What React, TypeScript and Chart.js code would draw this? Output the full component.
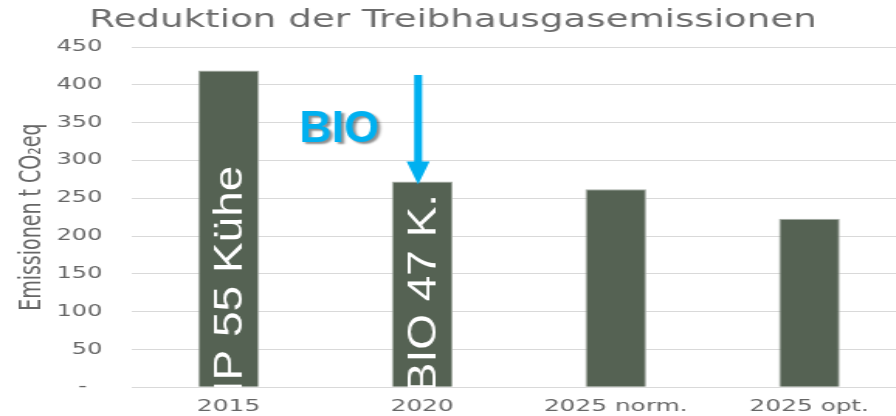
import React, { useEffect, useRef } from "react";
import { Chart, registerables } from "chart.js";

Chart.register(...registerables);

// ---- data ----
const TITLE = "Reduktion der Treibhausgasemissionen";
const Y_TITLE = "Emissionen t CO₂eq";
const categories = ["2015", "2020", "2025 norm.", "2025 opt."];
const emissions = [419, 272, 262, 223];
const barLabels = ["IP 55 Kühe", "BIO 47 K.", "", ""];
const yTicks = { min: 0, max: 450, step: 50 };
const annotationText = "BIO";
const arrowFromValue = 413;
const bioBaselineValue = 325;

// ---- geometry of the stretched look ----
const NATIVE_W = 591;
const CSS_W = 916;
const H = 416;
const K = CSS_W / NATIVE_W;

const FONT = '"DejaVu Sans", Verdana, sans-serif';

const overlayPlugin = {
  id: "overlay",
  afterDatasetsDraw(chart: any) {
    const ctx = chart.ctx;
    const meta = chart.getDatasetMeta(0);
    const area = chart.chartArea;
    ctx.save();
    ctx.beginPath();
    ctx.rect(area.left, area.top, area.right - area.left, area.bottom - area.top);
    ctx.clip();
    ctx.scale(1 / K, 1);
    barLabels.forEach((txt, i) => {
      if (!txt) return;
      const bar = meta.data[i];
      const xd = bar.x * K + 14;
      ctx.save();
      ctx.translate(xd, area.bottom + 6);
      ctx.rotate(-Math.PI / 2);
      ctx.scale(1, 0.85);
      ctx.font = '46px "Liberation Sans", Arial, sans-serif';
      ctx.fillStyle = "#ffffff";
      ctx.textAlign = "left";
      ctx.textBaseline = "alphabetic";
      ctx.fillText(txt, 0, 0);
      ctx.restore();
    });
    ctx.restore();
  },
  afterDraw(chart: any) {
    const ctx = chart.ctx;
    const meta = chart.getDatasetMeta(0);
    const yScale = chart.scales.y;
    const bar = meta.data[1];
    ctx.save();
    ctx.scale(1 / K, 1);
    const ax = bar.x * K - 4;
    const top = yScale.getPixelForValue(arrowFromValue);
    const tip = yScale.getPixelForValue(emissions[1]) + 3;
    const headLen = 23;
    const headHalf = 11.5;
    ctx.fillStyle = "#00B0F0";
    ctx.fillRect(ax - 4, top, 8, tip - headLen - top + 1);
    ctx.beginPath();
    ctx.moveTo(ax - headHalf, tip - headLen);
    ctx.lineTo(ax + headHalf, tip - headLen);
    ctx.lineTo(ax, tip);
    ctx.closePath();
    ctx.fill();

    ctx.font = 'bold 45px "Liberation Sans", Arial, sans-serif';
    ctx.textAlign = "right";
    ctx.textBaseline = "alphabetic";
    ctx.shadowColor = "rgba(0,0,0,0.45)";
    ctx.shadowOffsetX = 2;
    ctx.shadowOffsetY = 2;
    ctx.shadowBlur = 2;
    ctx.fillStyle = "#00B0F0";
    ctx.fillText(annotationText, ax - 39, yScale.getPixelForValue(bioBaselineValue));
    ctx.restore();
  },
};

export default function App() {
  const ref = useRef<HTMLCanvasElement | null>(null);

  useEffect(() => {
    if (!ref.current) return;
    const chart = new Chart(ref.current, {
      type: "bar",
      data: {
        labels: categories,
        datasets: [
          {
            data: emissions,
            backgroundColor: "#556253",
            borderColor: "#a7aea6",
            borderWidth: 1,
            barPercentage: 0.315,
            categoryPercentage: 1,
          },
        ],
      },
      options: {
        responsive: false,
        animation: false,
        devicePixelRatio: 1,
        events: [],
        layout: { padding: { left: 0, right: 6.4, top: 0, bottom: 0 } },
        plugins: {
          legend: { display: false },
          tooltip: { enabled: false },
          title: {
            display: true,
            text: TITLE,
            color: "#6c6c6c",
            font: { family: FONT, size: 24, weight: "normal" },
            padding: { top: 6, bottom: 12.2 },
          },
        },
        scales: {
          x: {
            grid: { display: false, drawTicks: false },
            border: { display: false },
            ticks: {
              color: "#666666",
              font: { family: FONT, size: 16 },
              padding: 9.5,
              maxRotation: 0,
              autoSkip: false,
            },
            afterFit: (s: any) => {
              s.height = 28.7;
            },
          },
          y: {
            min: yTicks.min,
            max: yTicks.max,
            grid: { color: "#d9d9d9", drawTicks: false, lineWidth: 1 },
            border: { display: false },
            ticks: {
              stepSize: yTicks.step,
              color: "#666666",
              font: { family: FONT, size: 15.5 },
              padding: 19,
              callback: (v: any) => (Number(v) === 0 ? "-  " : String(v)),
            },
            title: {
              display: true,
              text: Y_TITLE,
              color: "#666666",
              font: { family: FONT, size: 19 },
              padding: { top: 10, bottom: 0 },
            },
            afterFit: (s: any) => {
              s.width = 85;
            },
          },
        },
      },
      plugins: [overlayPlugin],
    });
    return () => chart.destroy();
  }, []);

  return (
    <div
      style={{
        position: "fixed",
        left: 0,
        top: 0,
        width: 896,
        height: H,
        overflow: "hidden",
        background: "#ffffff",
      }}
    >
      <canvas
        ref={ref}
        width={NATIVE_W}
        height={H}
        style={{ width: CSS_W + "px", height: H + "px", display: "block" }}
      />
    </div>
  );
}
